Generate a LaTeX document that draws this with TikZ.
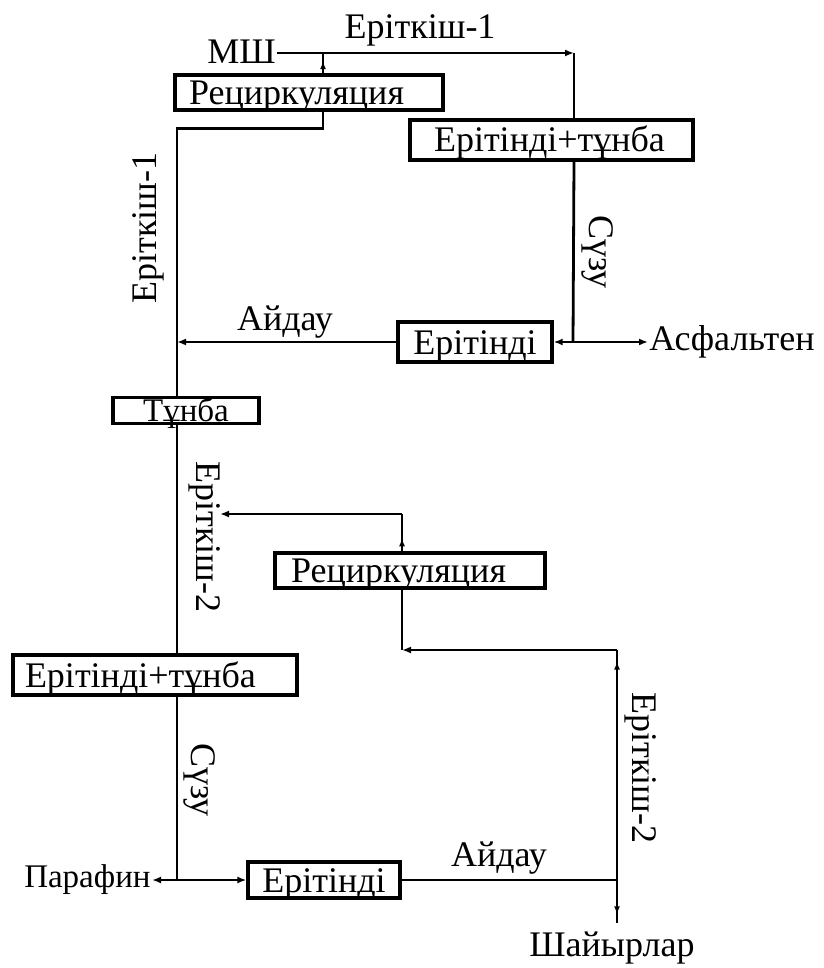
\documentclass[tikz,border=0pt]{standalone}
\usepackage{fontspec}
\setmainfont{Liberation Serif}
\usetikzlibrary{arrows.meta,decorations.markings,calc}
\begin{document}
\begin{tikzpicture}[x=1pt,y=1pt,
  line width=2.8pt,
  arr/.style={-{Latex[length=9pt,width=7pt]}},
  midup/.style={postaction={decorate},decoration={markings,mark=at position #1 with {\arrow{Latex[length=8pt,width=6pt]}}}},
  box/.style={draw,line width=3.3pt,inner ysep=0pt,inner xsep=0pt,font=\fontsize{36}{36}\selectfont,text height=27pt,text depth=3pt,align=center},
  lbox/.style={draw,line width=3.3pt,inner ysep=0pt,inner xsep=#1,font=\fontsize{36}{36}\selectfont,text height=27pt,text depth=3pt,align=left},
  lbl/.style={inner sep=0pt,font=\fontsize{36}{36}\selectfont},
  slbl/.style={inner sep=0pt,font=\fontsize{33}{33}\selectfont}]
\useasboundingbox (0,0) rectangle (823,-968);
% nodes
\node[lbl,anchor=east] (msh) at (277,-52) {МШ};
\node[lbl] (e1top) at (420,-30) {Еріткіш-1};
\node[lbox=14pt,text width=240pt,minimum height=35pt] (rec1) at (309,-92.5) {Рециркуляция};
\node[lbox=24pt,text width=235pt,minimum height=40pt] (es1) at (551.5,-140) {Ерітінді+тұнба};
\node[box,minimum width=154pt,minimum height=40pt] (er1) at (475,-342) {Ерітінді};
\node[lbl,anchor=west] (asf) at (648,-342) {Асфальтен};
\node[lbl] (aid1) at (285,-322) {Айдау};
\node[lbl,rotate=90] (e1l) at (148,-228) {Еріткіш-1};
\node[lbl,rotate=-90] (suz1) at (598,-252) {Сүзу};
\node[box,minimum width=146pt,minimum height=26pt,text height=23pt,text depth=1pt,font=\fontsize{33}{33}\selectfont] (tun) at (186,-410.5) {Тұнба};
\node[lbl,rotate=-90] (e2l) at (205,-537) {Еріткіш-2};
\node[lbox=16pt,text width=238pt,minimum height=35pt] (rec2) at (410,-570.5) {Рециркуляция};
\node[lbox=12pt,text width=260pt,minimum height=40pt] (es2) at (155,-675) {Ерітінді+тұнба};
\node[lbl,rotate=-90] (suz2) at (200,-780) {Сүзу};
\node[lbl,rotate=-90] (e2r) at (641,-768) {Еріткіш-2};
\node[box,minimum width=152pt,minimum height=36pt] (er2) at (324,-880) {Ерітінді};
\node[slbl,anchor=east] (par) at (152,-880) {Парафин};
\node[lbl] (aid2) at (499,-858) {Айдау};
\node[lbl] (shay) at (612,-948) {Шайырлар};
% coordinates
\coordinate (c1) at (574,-53);
\coordinate (t1) at (323,-53);
\coordinate (colx) at (177,0);
\coordinate (j1) at (573,-342);
\coordinate (c2) at (402,-514);
\coordinate (c2e) at (220,-514);
\coordinate (c3) at (402,-650);
\coordinate (c4) at (617,-650);
\coordinate (j2) at (177,-880);
\coordinate (j3) at (617,-880);
\coordinate (sh) at (617,-923);
% connectors
\draw[arr] (msh.east |- c1) -- (c1);
\draw (c1) -- (c1 |- es1.north);
\draw[midup=0.6] (t1 |- rec1.north) -- (t1);
\draw (t1 |- rec1.south) -- ($(t1 |- rec1.south)+(0,-17)$) -| (colx |- tun.north);
\draw (c1 |- es1.south) -- (j1);
\draw[arr] (j1) -- (er1.east);
\draw[arr] (j1) -- (asf.west);
\draw[arr] (er1.west) -- (colx |- er1.west);
\draw (colx |- tun.south) -- (colx |- es2.north);
\draw[midup=0.35] (c2 |- rec2.north) -- (c2);
\draw[arr] (c2) -- (c2e);
\draw (c2 |- rec2.south) -- (c3);
\draw[arr] (c4) -- (c3);
\draw[midup=0.95] (j3) -- (c4);
\draw[midup=0.8] (j3) -- (sh);
\draw (colx |- es2.south) -- (j2);
\draw[arr] (j2) -- (par.east);
\draw[arr] (j2) -- (er2.west);
\draw (er2.east) -- (j3);
\end{tikzpicture}
\end{document}
